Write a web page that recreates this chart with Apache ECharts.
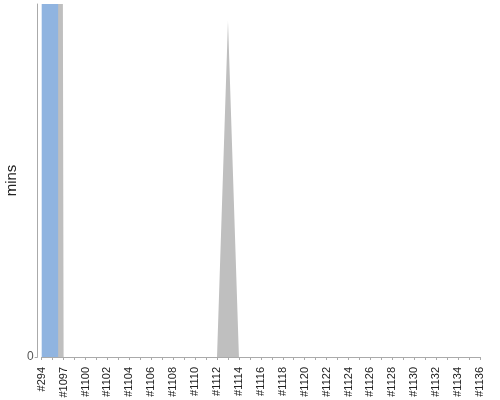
<!DOCTYPE html>
<html>
<head>
<meta charset="utf-8">
<script src="https://cdn.jsdelivr.net/npm/echarts@6/dist/echarts.min.js"></script>
<style>html,body{margin:0;padding:0;background:#fff}#c{width:500px;height:400px}</style>
</head>
<body>
<div id="c"></div>
<script>
// categories (build numbers)
const builds = ['#294','#1096','#1097','#1099','#1100','#1101','#1102','#1103','#1104','#1105','#1106','#1107','#1108','#1109','#1110','#1111','#1112','#1113','#1114','#1115','#1116','#1117','#1118','#1119','#1120','#1121','#1122','#1123','#1124','#1125','#1126','#1127','#1128','#1129','#1130','#1131','#1132','#1133','#1134','#1135','#1136'];
// duration in minutes, per result (values above the axis top are off the chart)
const successMins = [1500,1500,0,null,null,null,null,null,null,null,null,null,null,null,null,null,null,null,null,null,null,null,null,null,null,null,null,null,null,null,null,null,null,null,null,null,null,null,null,null,null];
const abortedMins = [null,1500,0,0,0,0,0,0,0,0,0,0,0,0,0,0,0,95.2,0,0,0,0,0,0,0,0,0,0,0,0,0,0,0,0,0,0,0,0,0,0,0];
const yTicks = [0, 100];

const chart = echarts.init(document.getElementById('c'), null, {renderer:'canvas'});
const font = 'Liberation Sans, Arial, sans-serif';
chart.setOption({
  animation: false,
  backgroundColor: '#fff',
  grid: {left: 41.7, right: 20, top: 4, bottom: 43, containLabel: false, outerBoundsMode: 'none'},
  xAxis: {
    type: 'category',
    data: builds,
    boundaryGap: false,
    offset: 5,
    axisLine: {lineStyle: {color: '#aaaaaa', width: 1}},
    axisTick: {show: true, interval: 0, length: 3, lineStyle: {color: '#aaaaaa'}},
    axisLabel: {interval: 1, rotate: 90, fontSize: 11, fontFamily: font, color: '#222', margin: 5},
    splitLine: {show: false}
  },
  yAxis: {
    type: 'value',
    min: yTicks[0],
    max: yTicks[1],
    interval: yTicks[1] - yTicks[0],
    offset: 4,
    name: 'mins',
    nameLocation: 'middle',
    nameRotate: 90,
    nameGap: 18,
    nameMoveOverlap: false,
    nameTextStyle: {fontSize: 15, fontFamily: font, color: '#222'},
    axisLine: {show: true, lineStyle: {color: '#aaaaaa', width: 1}},
    axisTick: {show: true, length: 3, lineStyle: {color: '#aaaaaa'}},
    axisLabel: {showMaxLabel: false, fontSize: 12, fontFamily: font, color: '#555', margin: 4},
    splitLine: {show: false}
  },
  series: [
    {
      name: 'aborted', type: 'line', data: abortedMins, symbol: 'none',
      lineStyle: {width: 0}, areaStyle: {color: '#bfbfbf', opacity: 1}, z: 2
    },
    {
      name: 'success', type: 'line', data: successMins, symbol: 'none', step: 'middle',
      lineStyle: {width: 0}, areaStyle: {color: '#90b4e0', opacity: 1}, z: 3
    }
  ]
});
</script>
</body>
</html>
